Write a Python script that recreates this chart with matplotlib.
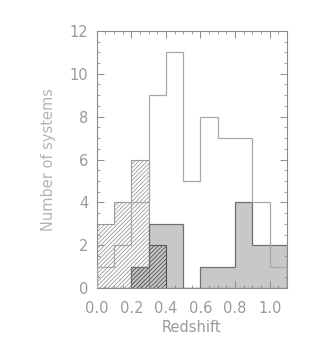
import matplotlib
matplotlib.use('Agg')
import matplotlib.pyplot as plt
import numpy as np
from matplotlib.ticker import MultipleLocator

# bin edges (redshift) and counts per bin
edges = [0.0, 0.1, 0.2, 0.3, 0.4, 0.5, 0.6, 0.7, 0.8, 0.9, 1.0, 1.1]
open_counts = [1, 2, 4, 9, 11, 5, 8, 7, 7, 4, 1]
hatch_counts = [3, 4, 6, 0, 0, 0, 0, 0, 0, 0, 0]
dark_hatch_counts = [0, 0, 1, 2, 0, 0, 0, 0, 0, 0, 0]
grey_counts = [0, 0, 1, 3, 3, 0, 1, 1, 4, 2, 2]

axis_col = '#8c8c8c'
text_col = '#9a9a9a'
plt.rcParams['hatch.linewidth'] = 0.6

fig = plt.figure(figsize=(3.15, 3.51), dpi=100)
ax = fig.add_axes([0.307, 0.179, 0.604, 0.733])

ax.stairs(grey_counts, edges, fill=True, facecolor='#c8c8c8', edgecolor='none', zorder=1)
ax.stairs(grey_counts, edges, color='#707070', lw=0.9, zorder=4)

plt.rcParams['hatch.color'] = '#9a9a9a'
ax.stairs(hatch_counts, edges, fill=True, facecolor='none', hatch='////////',
          edgecolor='#9a9a9a', lw=0.8, zorder=2)
ax.stairs(dark_hatch_counts, edges, fill=True, facecolor='none', hatch='////////',
          edgecolor='#555555', lw=0.8, zorder=3)
ax.stairs(open_counts, edges, color='#a8a8a8', lw=0.9, zorder=5)

ax.set_xlim(0, 1.1)
ax.set_ylim(0, 12)
ax.xaxis.set_major_locator(MultipleLocator(0.2))
ax.xaxis.set_minor_locator(MultipleLocator(0.05))
ax.yaxis.set_major_locator(MultipleLocator(2))
ax.yaxis.set_minor_locator(MultipleLocator(0.5))
ax.xaxis.set_major_formatter(matplotlib.ticker.FormatStrFormatter('%.1f'))
ax.tick_params(which='both', direction='in', top=True, right=True,
               color=axis_col, labelcolor=text_col, labelsize=10.5)
ax.tick_params(which='major', length=5, width=0.7)
ax.tick_params(axis='x', which='major', pad=9)
ax.tick_params(axis='y', which='major', pad=6)
ax.tick_params(which='minor', length=2.5, width=0.6)
for s in ax.spines.values():
    s.set_color(axis_col)
    s.set_linewidth(0.8)

ax.set_xlabel('Redshift', color=text_col, fontsize=10.5, labelpad=3)
ax.set_ylabel('Number of systems', color='#b4b4b4', fontsize=10.5, labelpad=10)

fig.savefig('out.png', dpi=100, facecolor='white')
